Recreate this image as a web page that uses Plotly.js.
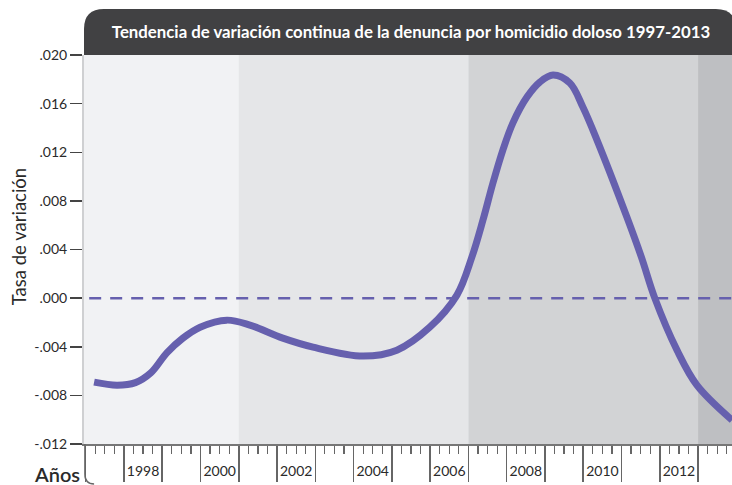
<!DOCTYPE html>
<html>
<head>
<meta charset="utf-8">
<script src="https://cdn.plot.ly/plotly-3.0.1.min.js"></script>
<style>html,body{margin:0;padding:0;background:#fff;}#chart{width:732px;height:485px;}</style>
</head>
<body>
<div id="chart"></div>
<script>
// Data
const years = [1997.22, 1997.82, 1998.30, 1998.70, 1999.12, 1999.54, 1999.99, 2000.69, 2001.29, 2002.15, 2002.94, 2004.25, 2005.13, 2005.99, 2006.70, 2007.09, 2007.38, 2007.64, 2007.90, 2008.16, 2008.53, 2008.87, 2009.21, 2009.65, 2009.99, 2010.36, 2011.14, 2011.52, 2011.87, 2012.45, 2012.97, 2013.89];
const tasa = [-0.00691, -0.00716, -0.00695, -0.00615, -0.00450, -0.00329, -0.00239, -0.00181, -0.00222, -0.00329, -0.00403, -0.00477, -0.00428, -0.00239, 0.00025, 0.00337, 0.00642, 0.00946, 0.01218, 0.01440, 0.01654, 0.01778, 0.01835, 0.01769, 0.01572, 0.01300, 0.00667, 0.00337, 0.0, -0.00428, -0.00716, -0.01004];
const labelYears = [1998, 2000, 2002, 2004, 2006, 2008, 2010, 2012];
const yTickVals = [0.020, 0.016, 0.012, 0.008, 0.004, 0.000, -0.004, -0.008, -0.012];
const yTickText = ['.020', '.016', '.012', '.008', '.004', '.000', '-.004', '-.008', '-.012'];
const periodStart = [1996.9, 2001, 2007, 2013];
const periodEnd = [2001, 2007, 2013, 2014.2];
const periodColors = ['#f1f2f4', '#e5e6e8', '#d2d3d5', '#bebfc2'];

const XR = [1996.956, 2013.887];
const FONT = 'Lato, "Open Sans", "DejaVu Sans", sans-serif';
const PURPLE = '#6660ae';

const shapes = [];
periodStart.forEach((s, i) => {
  shapes.push({type: 'rect', xref: 'x', yref: 'paper', x0: s, x1: periodEnd[i], y0: 0, y1: 1,
    fillcolor: periodColors[i], line: {width: 0}, layer: 'below'});
});
// zero dashed line
shapes.push({type: 'line', xref: 'paper', yref: 'y', x0: 0.008, x1: 1, y0: 0, y1: 0,
  line: {color: PURPLE, width: 2.5, dash: '12px,9px'}, layer: 'below'});
// title bar with rounded top corners
shapes.push({type: 'path', xref: 'paper', yref: 'paper',
  path: 'M 0,1 L 0,1.067 Q 0,1.1183 0.0309,1.1183 L 0.975,1.1183 Q 1.006,1.1183 1.006,1.067 L 1.006,1 Z',
  fillcolor: '#414143', line: {width: 0}});
// rounded bottom-left frame corner
shapes.push({type: 'path', xref: 'x', yref: 'paper',
  path: 'M 1996.98,0 L 1996.98,-0.077 Q 1996.98,-0.1028 1997.22,-0.1028',
  line: {color: '#666', width: 1.5}});

const data = [
  {x: years, y: tasa, type: 'scatter', mode: 'lines',
   line: {color: PURPLE, width: 7, shape: 'spline', smoothing: 1.0},
   hoverinfo: 'skip', showlegend: false, cliponaxis: true},
  {x: labelYears.map(v => v + 0.5), y: labelYears.map(() => 0), xaxis: 'x2', type: 'scatter', mode: 'markers',
   marker: {opacity: 0}, hoverinfo: 'skip', showlegend: false}
];

const layout = {
  width: 732, height: 485,
  margin: {l: 84, r: 0, t: 55, b: 41, pad: 0},
  paper_bgcolor: '#ffffff', plot_bgcolor: '#f1f2f4',
  font: {family: FONT, color: '#333'},
  title: {text: '<b>Tendencia de variación continua de la denuncia por homicidio doloso 1997-2013</b>',
    xref: 'container', x: 0.5615, xanchor: 'center', yref: 'container', y: 1 - 32 / 485, yanchor: 'middle',
    font: {family: FONT, size: 16.8, color: '#ffffff'}},
  xaxis: {range: XR, tickmode: 'linear', tick0: 1997, dtick: 1, showticklabels: false,
    ticks: 'outside', ticklen: 36, tickwidth: 1.5, tickcolor: '#666',
    showline: true, linecolor: '#777', linewidth: 2, showgrid: false, zeroline: false, fixedrange: true,
    minor: {tickmode: 'linear', tick0: 1997, dtick: 0.25, ticks: 'outside', ticklen: 8, tickwidth: 1.2, tickcolor: '#666', showgrid: false}},
  xaxis2: {range: XR, overlaying: 'x', anchor: 'y', side: 'bottom', tickmode: 'array',
    tickvals: labelYears.map(v => v + 0.5), ticktext: labelYears.map(String),
    ticks: 'outside', ticklen: 14, tickcolor: 'rgba(0,0,0,0)', showline: false, showgrid: false, zeroline: false,
    tickfont: {family: FONT, size: 14, color: '#2a2a2a'}, fixedrange: true},
  yaxis: {range: [-0.012, 0.020], tickmode: 'array', tickvals: yTickVals, ticktext: yTickText,
    ticks: 'outside', ticklen: 12, tickwidth: 1.5, tickcolor: '#444',
    showline: true, linecolor: '#cfd0d2', linewidth: 2, showgrid: false, zeroline: false,
    tickfont: {family: FONT, size: 14, color: '#2a2a2a'}, fixedrange: true},
  annotations: [
    {text: 'Tasa de variación', xref: 'paper', yref: 'paper', x: -0.1,
     y: (444 - 237) / 389, xanchor: 'center', yanchor: 'middle', textangle: -90, showarrow: false,
     font: {family: FONT, size: 18.5, color: '#2a2a2a'}},
    {text: 'Años', xref: 'paper', yref: 'paper', x: (57 - 84) / 648, y: (444 - 474) / 389,
     xanchor: 'center', yanchor: 'middle', showarrow: false,
     font: {family: FONT, size: 20, color: '#2a2a2a', weight: 600}}
  ],
  shapes: shapes
};

Plotly.newPlot('chart', data, layout, {displayModeBar: false, staticPlot: true});
</script>
</body>
</html>
